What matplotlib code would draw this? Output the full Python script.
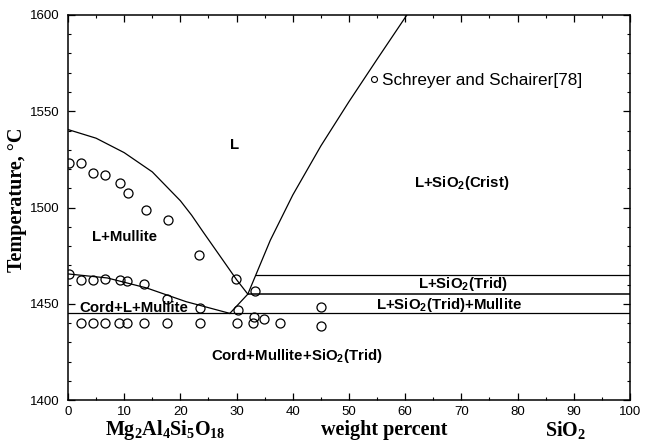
import numpy as np
import matplotlib.pyplot as plt
from matplotlib.lines import Line2D

plt.rcParams['font.family'] = ['Liberation Sans', 'DejaVu Sans']
plt.rcParams['mathtext.fontset'] = 'custom'
plt.rcParams['mathtext.rm'] = 'Liberation Serif:bold'
plt.rcParams['mathtext.sf'] = 'Liberation Sans:bold'
plt.rcParams['mathtext.it'] = 'Liberation Serif:bold'
plt.rcParams['mathtext.bf'] = 'Liberation Serif:bold'

# liquidus (mullite field)
mull_x = [0, 5, 10, 15, 20, 22, 24, 27, 30, 32]
mull_T = [1540.5, 1536, 1528.5, 1518.5, 1503.5, 1496, 1487.5, 1475, 1462.5, 1455]

# cordierite + L boundary
cord_x = [0, 7, 14, 21, 28.8]
cord_T = [1465.5, 1463.4, 1458.2, 1451.1, 1445]

# SiO2 liquidus
sio2_x = [28.8, 32, 33.5, 36, 40, 45, 50, 55, 60.3]
sio2_T = [1445, 1455, 1465.5, 1483, 1506.5, 1532, 1555, 1577, 1600]

# horizontal invariant lines: (start x, T)
iso_start = [33.5, 32, 0]
iso_T = [1465, 1455, 1445]

# Schreyer and Schairer data
up_x = [0.2, 2.4, 4.4, 6.6, 9.3, 10.6, 13.8, 17.8, 23.4, 29.9]
up_T = [1523, 1523.3, 1518, 1517, 1512.5, 1507.5, 1498.7, 1493.5, 1475.5, 1462.8]
mid_x = [0.2, 2.3, 4.4, 6.6, 9.3, 10.5, 13.5, 17.6, 23.5, 30.3, 33.3, 45.0]
mid_T = [1465.5, 1462.3, 1462.3, 1463, 1462.3, 1462, 1460.3, 1452.5, 1447.6, 1446.8, 1456.8, 1448.3]
low_x = [2.3, 4.4, 6.6, 9.1, 10.5, 13.5, 17.6, 23.5, 30.1, 33.0, 33.1, 34.8, 37.8, 45.0]
low_T = [1440, 1440, 1440, 1440, 1440, 1440, 1440, 1440, 1440, 1440, 1443.3, 1442, 1440, 1438.5]

fig = plt.figure(figsize=(6.55, 4.45), dpi=100)
ax = fig.add_axes([0.1038, 0.1011, 0.858, 0.8652])

lw = 0.9
ax.plot(mull_x, mull_T, color='k', lw=lw)
ax.plot(cord_x, cord_T, color='k', lw=lw)
ax.plot(sio2_x, sio2_T, color='k', lw=lw)
for xs, t in zip(iso_start, iso_T):
    ax.plot([xs, 100], [t, t], color='k', lw=1.1 if t == 1455 else lw)

pts_x = up_x + mid_x + low_x
pts_T = up_T + mid_T + low_T
ax.plot(pts_x, pts_T, ls='', marker='o', ms=6.5, mfc='none', mec='k', mew=0.9)

h = Line2D([], [], ls='', marker='o', ms=4.3, mfc='none', mec='k', mew=0.8)
ax.legend([h], ['Schreyer and Schairer[78]'], loc='center left',
          bbox_to_anchor=(0.537, 0.829), frameon=False, fontsize=12.3,
          handlelength=0.5, handletextpad=0.2, borderpad=0, borderaxespad=0)

ax.set_xlim(0, 100)
ax.set_ylim(1400, 1600)
ax.set_xticks(np.arange(0, 101, 10))
ax.set_xticks(np.arange(0, 101, 5), minor=True)
ax.set_yticks(np.arange(1400, 1601, 50))
ax.set_yticks(np.arange(1400, 1601, 10), minor=True)
ax.tick_params(which='both', direction='in', top=True, right=True, labelsize=9.5)
ax.tick_params(which='major', length=5, width=0.9)
ax.tick_params(which='minor', length=2.5, width=0.8)
ax.tick_params(axis='y', pad=6)
ax.tick_params(axis='x', pad=4)
for s in ax.spines.values():
    s.set_linewidth(1.1)

lab = dict(fontsize=10.8, fontweight='bold', ha='center', va='center')
ax.text(29.7, 1532.5, 'L', **lab)
ax.text(10.1, 1484.7, 'L+Mullite', **lab)
ax.text(11.7, 1447.8, 'Cord+L+Mullite', **lab)
ax.text(40.8, 1423, r'Cord+Mullite+SiO$_\mathsf{2}$(Trid)', **lab)
ax.text(70.1, 1512.7, r'L+SiO$_\mathsf{2}$(Crist)', **lab)
ax.text(70.3, 1460.3, r'L+SiO$_\mathsf{2}$(Trid)', **lab)
ax.text(67.8, 1449.6, r'L+SiO$_\mathsf{2}$(Trid)+Mullite', **lab)

serif = dict(family='Liberation Serif', fontweight='bold', fontsize=14.5)
ax.set_ylabel('Temperature, °C', labelpad=2, y=0.52, **serif)
ax.text(17.3, -0.078, r'$\mathrm{Mg_2Al_4Si_5O_{18}}$', transform=ax.get_xaxis_transform(),
        ha='center', va='center', fontsize=14.5)
ax.text(56.3, -0.078, 'weight percent', transform=ax.get_xaxis_transform(),
        ha='center', va='center', **serif)
ax.text(88.5, -0.078, r'SiO$_2$', transform=ax.get_xaxis_transform(),
        ha='center', va='center', **serif)

fig.savefig('out.png', dpi=100)
